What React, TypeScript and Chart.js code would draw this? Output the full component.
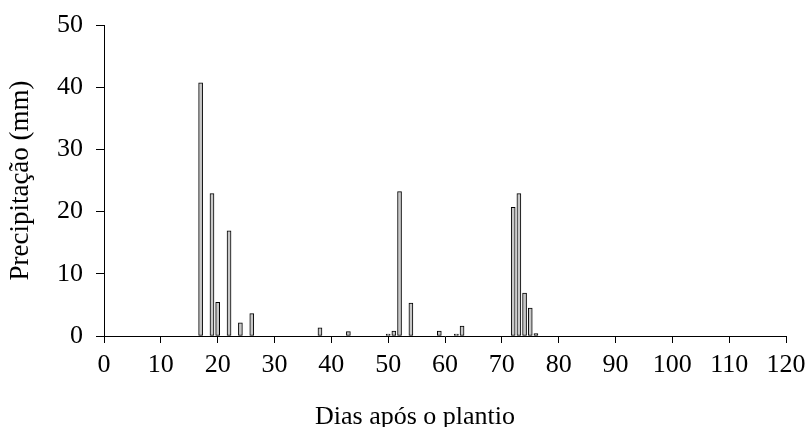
import React, { useEffect, useRef } from "react";
import { Chart, registerables } from "chart.js";

Chart.register(...registerables);

const days = [17, 19, 20, 22, 24, 26, 38, 43, 50, 51, 52, 54, 59, 62, 63, 72, 73, 74, 75, 76];
const rainfall = [40.7, 22.9, 5.4, 16.9, 2.1, 3.6, 1.3, 0.7, 0.3, 0.8, 23.2, 5.3, 0.8, 0.3, 1.6, 20.7, 22.9, 6.9, 4.5, 0.4];
const xTitle = "Dias após o plantio";
const yTitle = "Precipitação (mm)";

const FONT = "'Liberation Serif', 'Times New Roman', serif";

const xTitlePlugin = {
  id: "xTitlePlugin",
  afterDraw(chart: any) {
    const ctx = chart.ctx;
    ctx.save();
    ctx.font = `26px ${FONT}`;
    ctx.fillStyle = "#000";
    ctx.textAlign = "center";
    ctx.textBaseline = "alphabetic";
    ctx.fillText(xTitle, 415, 424);
    ctx.restore();
  },
};

export default function App() {
  const ref = useRef<HTMLCanvasElement | null>(null);

  useEffect(() => {
    if (!ref.current) return;
    const chart = new Chart(ref.current, {
      type: "bar",
      data: {
        datasets: [
          {
            data: days.map((d, i) => ({ x: d, y: rainfall[i] })),
            backgroundColor: "#c8c8c8",
            borderColor: "#000000",
            borderWidth: 1,
            borderSkipped: false,
            barThickness: 4,
          },
        ],
      },
      plugins: [xTitlePlugin],
      options: {
        responsive: false,
        animation: false,
        layout: { padding: { left: 0, right: 21, top: 25, bottom: 0 } },
        plugins: { legend: { display: false }, tooltip: { enabled: false } },
        scales: {
          x: {
            type: "linear",
            min: 0,
            max: 120,
            offset: false,
            ticks: { stepSize: 10, color: "#000", font: { family: FONT, size: 26 }, padding: 7, maxRotation: 0 },
            grid: { display: true, drawOnChartArea: false, drawTicks: true, tickLength: 7, color: "#000", offset: false },
            border: { display: true, color: "#000", width: 1 },
            title: { display: false },
            afterFit: (s: any) => {
              s.height = 91;
              s.paddingLeft = 0;
              s.paddingRight = 0;
            },
          },
          y: {
            min: 0,
            max: 50,
            ticks: { stepSize: 10, color: "#000", font: { family: FONT, size: 26 }, padding: 13 },
            grid: { display: true, drawOnChartArea: false, drawTicks: true, tickLength: 8, color: "#000" },
            border: { display: true, color: "#000", width: 1 },
            title: { display: true, text: yTitle, color: "#000", font: { family: FONT, size: 27 }, padding: { top: 5, bottom: 0 } },
            afterFit: (s: any) => {
              s.width = 104;
              s.paddingTop = 0;
              s.paddingBottom = 0;
            },
          },
        },
      },
    });
    return () => chart.destroy();
  }, []);

  return (
    <div style={{ position: "fixed", left: 0, top: 0, width: 807, height: 427, background: "#fff" }}>
      <canvas ref={ref} width={807} height={427} />
    </div>
  );
}
